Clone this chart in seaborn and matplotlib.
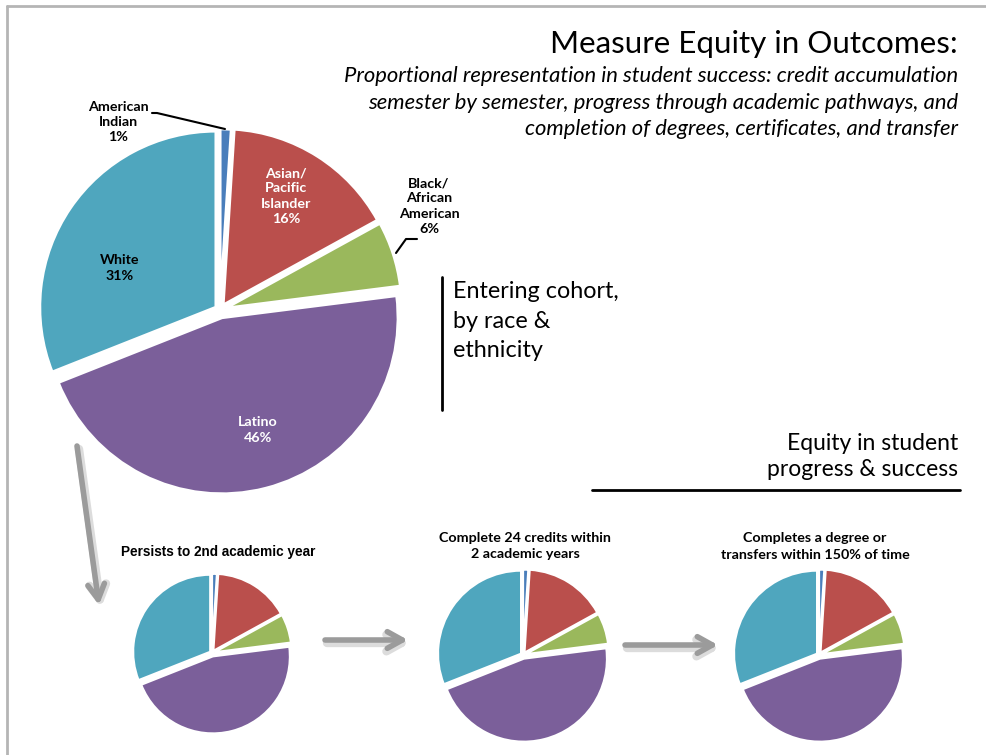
import matplotlib
matplotlib.use("Agg")
import matplotlib.pyplot as plt
import seaborn as sns

# Share of each group (percent), entering cohort and the three milestones
groups = ["American Indian", "Asian/Pacific Islander", "Black/African American", "Latino", "White"]
cohort_share = [1, 16, 6, 46, 31]
persist_share = [1, 16, 6, 46, 31]
credits_share = [1, 16, 6, 46, 31]
complete_share = [1, 16, 6, 46, 31]

slice_labels = ["American\nIndian\n1%", "Asian/\nPacific\nIslander\n16%",
                "Black/\nAfrican\nAmerican\n6%", "Latino\n46%", "White\n31%"]
stage_titles = [["Persists to 2nd academic year"],
                ["Complete 24 credits within", "2 academic years"],
                ["Completes a degree or", "transfers within 150% of time"]]

title = "Measure Equity in Outcomes:"
subtitle = ["Proportional representation in student success: credit accumulation",
            "semester by semester, progress through academic pathways, and",
            "completion of degrees, certificates, and transfer"]
side_note = ["Entering cohort,", "by race &", "ethnicity"]
progress_note = ["Equity in student", "progress & success"]

colors = sns.color_palette(["#4A7EBB", "#BA4F4C", "#9AB85C", "#7B5F9A", "#4FA6BE"])

sns.set_theme(style="white")
plt.rcParams["font.family"] = ["Lato", "DejaVu Sans"]
plt.rcParams["text.color"] = "black"

W, H = 987, 755
fig = plt.figure(figsize=(W / 100, H / 100), dpi=100)
ax = fig.add_axes([0, 0, 1, 1])


def Y(y):
    # pixel row (from top) -> data y
    return H - y


def draw_pie(values, cx, cy, r, lw):
    k = r / 176
    explode = [5 * k, 6 * k, 6 * k, 8 * k, 5 * k]
    ax.pie(values, colors=colors, startangle=90, counterclock=False,
           explode=explode, center=(cx, Y(cy)), radius=r, frame=True,
           wedgeprops=dict(edgecolor="white", linewidth=lw))


def lines_at(x, baselines, texts, **kw):
    for yb, t in zip(baselines, texts):
        ax.text(x, Y(yb), t, va="baseline", **kw)


def arrow(x0, y0, x1, y1):
    # soft shadow then the grey arrow
    ax.annotate("", xy=(x1 + 2, Y(y1 + 3)), xytext=(x0 + 2, Y(y0 + 3)),
                arrowprops=dict(arrowstyle="->,head_length=0.9,head_width=0.5",
                                color="#dcdcdc", lw=6, shrinkA=0, shrinkB=0))
    ax.annotate("", xy=(x1, Y(y1)), xytext=(x0, Y(y0)),
                arrowprops=dict(arrowstyle="->,head_length=0.9,head_width=0.5",
                                color="#9b9b9b", lw=4, shrinkA=0, shrinkB=0))


# slide frame
ax.plot([7, W], [Y(6), Y(6)], color="#b5b5b5", lw=2)
ax.plot([7, 7], [Y(6), 0], color="#b5b5b5", lw=2)

# big pie: entering cohort
draw_pie(cohort_share, 220, 310, 176, 2)

label_pos = [(118, 122), (286, 196), (429, 206), (258, 430), (120, 268)]
label_col = ["black", "white", "black", "white", "black"]
for lab, (lx, ly), c in zip(slice_labels, label_pos, label_col):
    ax.text(lx, Y(ly), lab, ha="center", va="center", color=c, fontsize=10.3,
            fontweight="bold", linespacing=1.32)

# leader lines for the two outside labels
ax.plot([152, 157, 225], [Y(113), Y(113), Y(129)], color="black", lw=1.5)
ax.plot([417, 406, 396], [Y(239), Y(239), Y(253)], color="black", lw=1.5)

# headings
lines_at(958, [53], [title], ha="right", fontsize=22.6)
lines_at(958, [82, 109, 135], subtitle, ha="right", fontsize=15.8, style="italic")

ax.plot([442, 442], [Y(277), Y(410)], color="black", lw=2)
lines_at(453, [298, 328, 357], side_note, ha="left", fontsize=16.8)

lines_at(958, [450, 476], progress_note, ha="right", fontsize=16.5)
ax.plot([592, 960], [Y(490), Y(490)], color="black", lw=2)

# small pies for each milestone
draw_pie(persist_share, 212, 653, 77, 1.5)
draw_pie(credits_share, 523, 655, 83, 1.5)
draw_pie(complete_share, 819, 655, 83, 1.5)

lines_at(218, [556], stage_titles[0], ha="center", fontsize=9.8,
         fontweight="bold", family="Liberation Sans")
lines_at(525, [542, 558], stage_titles[1], ha="center", fontsize=10.3, fontweight="bold")
lines_at(815, [542, 559], stage_titles[2], ha="center", fontsize=10.3, fontweight="bold")

arrow(77, 446, 99, 605)
arrow(325, 640, 408, 640)
arrow(625, 645, 718, 645)

ax.set_xlim(0, W)
ax.set_ylim(0, H)
ax.set_aspect("equal")
ax.axis("off")

fig.savefig("out.png", dpi=100, facecolor="white")
